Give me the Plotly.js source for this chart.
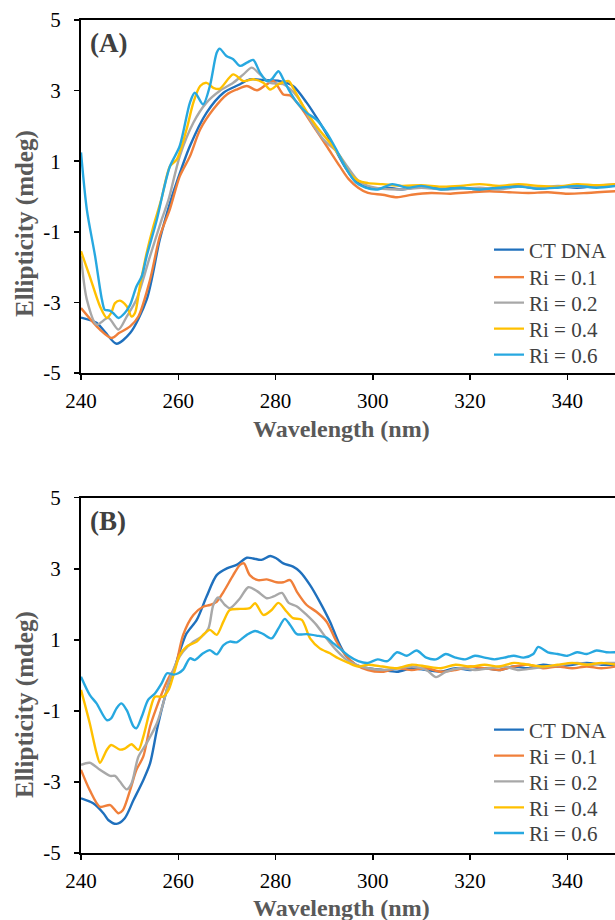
<!DOCTYPE html>
<html>
<head>
<meta charset="utf-8">
<script src="https://cdn.plot.ly/plotly-3.0.1.min.js"></script>
<style>html,body{margin:0;padding:0;background:#fff;}#chart{width:615px;height:920px;}</style>
</head>
<body>
<div id="chart"></div>
<script>
// ---------- Data ----------
const seriesNames = ["CT DNA", "Ri = 0.1", "Ri = 0.2", "Ri = 0.4", "Ri = 0.6"];
const xTickVals = [240, 260, 280, 300, 320, 340];
const yTickVals = [-5, -3, -1, 1, 3, 5];
const yTickText = ["-5", "-3", "-1", "1", "3", "5"];

// Panel (A)
const A_ctdna_x = [240,243.2,245,247.3,250.1,253.5,256.2,258.3,259.3,262.4,265.8,269.3,272.7,274.7,277.5,280.9,283.6,286.4,289.1,291.9,294,296,298,300,303,306,310,314,318,322,326,330,334,338,342,346,350];
const A_ctdna_y = [-3.43,-3.58,-3.85,-4.17,-3.87,-2.92,-1.22,-0.18,0.25,1.43,2.37,2.94,3.18,3.32,3.3,3.27,3.13,2.66,2.09,1.43,0.9,0.5,0.3,0.22,0.25,0.2,0.28,0.22,0.25,0.2,0.25,0.3,0.22,0.28,0.25,0.3,0.3];

const A_ri01_x = [240,243.9,246.3,247.8,250.1,251.8,254.2,256.2,258.3,260.3,262.4,264.5,267.2,270,272,274.1,276.2,278.2,279.6,281.6,283,285,287.8,290.5,293.2,295,297,299,302,305,308,312,316,320,324,328,332,336,340,344,350];
const A_ri01_y = [-3.16,-3.77,-4.01,-3.87,-3.68,-3.4,-2.36,-1.13,-0.35,0.57,1.14,1.9,2.47,2.89,3.03,3.13,3.01,3.18,3.27,2.89,2.86,2.56,1.99,1.43,0.86,0.5,0.25,0.1,0.05,-0.02,0.05,0.1,0.08,0.12,0.15,0.12,0.1,0.12,0.08,0.1,0.15];

const A_ri02_x = [240,241.2,243.2,245.6,247.7,249.4,251.4,254.2,256.6,258,260.3,263.1,265.8,268.5,271.3,273.4,275.1,276.8,278.9,281.6,284.4,287.1,289.8,292.5,295,297,299,302,306,310,314,318,322,326,330,334,338,342,346,350];
const A_ri02_y = [-1.69,-2.92,-3.63,-3.44,-3.77,-3.4,-2.92,-1.69,-0.65,-0.09,1.14,2.09,2.66,2.99,3.22,3.46,3.65,3.46,3.22,3.18,2.84,2.18,1.62,1.28,0.8,0.45,0.3,0.22,0.2,0.25,0.2,0.22,0.25,0.2,0.28,0.25,0.3,0.28,0.3,0.35];

const A_ri04_x = [240,241.8,243.9,245.3,246.2,247,248,249.4,250.4,251.1,252.1,253.5,254.9,256.5,258.3,259.7,261.7,263.1,264.5,265.8,267.2,268.5,271.3,273.4,275.5,277.5,278.9,280.6,282.7,283.6,285.7,288.4,291.2,293.2,295,297,299,302,306,310,314,318,322,326,330,334,338,342,346,350];
const A_ri04_y = [-1.55,-2.26,-3.11,-3.44,-3.3,-3.02,-2.95,-3.11,-3.4,-3.3,-2.55,-1.6,-0.84,-0.09,0.86,1.05,1.9,2.66,3.13,3.22,3.08,3.05,3.46,3.27,3.32,3.22,3.03,3.18,3.27,3.08,2.56,1.99,1.52,1.14,0.7,0.45,0.38,0.35,0.3,0.32,0.28,0.3,0.35,0.3,0.35,0.3,0.28,0.35,0.32,0.35];

const A_ri06_x = [240,241.2,242.9,244.3,244.9,245.9,246.6,247.7,249,250.1,251.4,252.5,253.5,255.6,257,258.3,260.3,262.4,263.4,265.1,266.5,267.9,268.5,269.9,271.3,272.7,274.1,275.4,276.8,278.2,279.2,280.6,281.6,282.7,284.4,286.4,288.4,290.5,292.5,294.5,296.5,298.5,301,304,307,310,314,318,322,326,330,334,338,342,346,350];
const A_ri06_y = [1.25,-0.37,-1.69,-2.92,-3.21,-3.23,-3.3,-3.44,-3.3,-3.07,-2.55,-2.26,-1.69,-0.65,0.2,0.86,1.43,2.66,2.94,2.61,3.13,4.07,4.19,3.98,3.89,3.7,3.79,3.87,3.51,3.27,3.32,3.55,3.32,3.03,2.66,2.37,2.18,1.81,1.33,0.8,0.4,0.25,0.2,0.35,0.25,0.3,0.2,0.25,0.2,0.25,0.28,0.22,0.25,0.3,0.25,0.3];

// Panel (B)
const B_ctdna_x = [240,242.5,244.6,245.6,247.3,249,250.8,252.8,254.2,255.6,256.9,258.3,259,260.3,261.7,263.8,265.8,267.9,270,272,274.1,275.4,277.1,278.9,280.2,281.6,283.6,285,287.1,289.1,291.2,292.9,294.5,296.5,299,302,305,308,311,314,317,320,323,326,329,332,335,338,341,344,347,350];
const B_ctdna_y = [-3.46,-3.6,-3.88,-4.07,-4.18,-4.02,-3.51,-2.95,-2.48,-1.54,-0.79,-0.13,0.1,0.67,1.18,1.56,2.21,2.82,3.01,3.11,3.31,3.29,3.25,3.36,3.29,3.15,3.06,2.92,2.54,2.07,1.51,0.95,0.55,0.3,0.2,0.15,0.1,0.2,0.15,0.1,0.2,0.15,0.2,0.15,0.25,0.2,0.3,0.25,0.3,0.35,0.3,0.3];

const B_ri01_x = [240,241.8,243.9,246,247.7,248.6,250.1,251.4,252.8,254.2,255.6,256.9,258.3,259.3,261,263.1,265.1,266.5,267.9,269.3,271.3,272.7,273.5,274.7,276.4,278.2,280.2,281.6,283,284.4,286.4,288.4,290.5,292.5,294.5,296.5,299,302,305,308,311,314,317,320,323,326,329,332,335,338,341,344,347,350];
const B_ri01_y = [-2.66,-3.23,-3.7,-3.65,-3.88,-3.8,-3.23,-2.66,-2.29,-1.44,-0.88,-0.41,0.0,0.2,1.14,1.7,1.93,1.98,2.07,2.35,2.82,3.11,3.15,2.82,2.68,2.7,2.62,2.62,2.68,2.35,1.98,1.79,1.51,0.96,0.55,0.3,0.15,0.1,0.2,0.15,0.2,0.1,0.15,0.25,0.2,0.15,0.25,0.3,0.2,0.25,0.2,0.25,0.2,0.25];

const B_ri02_x = [240,241.8,243.9,246,247,248,249.4,250.4,251.8,253.5,255.6,256.9,258,259.7,261,263.1,264.8,266.2,267.2,268.2,269.6,270.6,272.7,274.4,276.2,278.2,279.6,281.3,282.7,284.4,286.4,288.4,290.5,292.5,294.5,296.5,299,302,305,308,311,313,315,318,321,324,327,330,333,336,339,342,345,348,350];
const B_ri02_y = [-2.52,-2.46,-2.66,-2.83,-2.83,-2.99,-3.21,-3.04,-2.29,-1.91,-1.35,-0.79,-0.22,0.38,0.67,0.95,1.09,1.32,1.98,2.19,1.98,1.89,2.17,2.48,2.37,2.17,2.22,2.32,2.04,1.94,1.7,1.42,1.04,0.71,0.45,0.3,0.2,0.15,0.2,0.25,0.15,-0.05,0.1,0.2,0.15,0.2,0.25,0.15,0.2,0.25,0.3,0.35,0.3,0.35,0.35];

const B_ri04_x = [240,241.8,243.2,243.9,245.3,246.2,248,249,250.4,251.8,252.8,254.2,255.2,256.9,258,259,260.3,261.7,263.8,265.1,266.5,267.9,269.3,270.6,272.7,274.7,275.8,277.5,279.2,280.6,282.3,283.6,285.4,287.1,289.1,291.2,292.9,295,297,299,302,305,308,311,314,317,320,323,326,329,332,335,338,341,344,347,350];
const B_ri04_y = [-0.41,-1.35,-2.19,-2.46,-2.1,-1.96,-2.09,-2.06,-1.94,-2.1,-1.73,-0.98,-0.6,-0.6,-0.41,0.0,0.57,0.81,0.95,1.14,1.28,1.14,1.52,1.84,1.87,1.89,2.03,1.7,1.84,2.04,1.79,1.61,1.56,1.04,0.76,0.62,0.48,0.35,0.25,0.3,0.25,0.2,0.3,0.25,0.2,0.3,0.25,0.3,0.25,0.35,0.3,0.25,0.3,0.35,0.3,0.35,0.3];

const B_ri06_x = [240,241.8,243.2,245.3,246.2,247.3,248.3,249.4,250.8,251.4,252.5,253.8,255.2,256.6,257.7,259,260,261,262.4,263.4,265.1,266.5,267.9,269.3,270.6,272,274.1,275.8,277.5,279.2,280.6,281.9,283,284.4,286.4,288.4,290.5,291.9,293.2,295,297,299,301,303,305,307,309,311,313,315,317,319,321,323,325,327,329,331,333,334,336,338,340,342,344,346,348,350];
const B_ri06_y = [-0.04,-0.55,-0.79,-1.26,-1.21,-0.93,-0.79,-0.98,-1.44,-1.49,-1.16,-0.69,-0.51,-0.22,0.06,0.02,0.06,0.16,0.48,0.43,0.62,0.71,0.59,0.85,0.95,0.93,1.14,1.25,1.16,1.04,1.32,1.59,1.42,1.16,1.16,1.12,1.06,0.9,0.76,0.55,0.4,0.35,0.45,0.4,0.65,0.55,0.7,0.5,0.45,0.6,0.5,0.45,0.55,0.5,0.45,0.5,0.55,0.5,0.6,0.8,0.65,0.6,0.55,0.65,0.6,0.7,0.65,0.65];

// ---------- Styling ----------
const colors = ["#1F70BD", "#F07F3A", "#A8A8A8", "#FFC000", "#27A8E0"];
const FONT = "Liberation Serif";
const H = 920, MT = 20, MB = 67, ML = 81, PW = 534;
const PH = H - MT - MB;
const py = (p) => (H - MB - p) / PH;      // pixel row -> paper y
const px = (p) => (p - ML) / PW;           // pixel column -> paper x

const panelA = [[A_ctdna_x, A_ctdna_y],[A_ri01_x, A_ri01_y],[A_ri02_x, A_ri02_y],[A_ri04_x, A_ri04_y],[A_ri06_x, A_ri06_y]];
const panelB = [[B_ctdna_x, B_ctdna_y],[B_ri01_x, B_ri01_y],[B_ri02_x, B_ri02_y],[B_ri04_x, B_ri04_y],[B_ri06_x, B_ri06_y]];

const legendKey = (n) => n === 1 ? "legend" : "legend" + n;
const traces = [];
panelA.forEach((s, i) => traces.push({
  x: s[0], y: s[1], name: seriesNames[i], type: "scatter", mode: "lines",
  line: {color: colors[i], width: 2.4, shape: "spline", smoothing: 0.8},
  xaxis: "x", yaxis: "y", legend: legendKey(i + 1)
}));
panelB.forEach((s, i) => traces.push({
  x: s[0], y: s[1], name: seriesNames[i], type: "scatter", mode: "lines",
  line: {color: colors[i], width: 2.4, shape: "spline", smoothing: 0.8},
  xaxis: "x2", yaxis: "y2", legend: legendKey(i + 6)
}));

function xaxis(anchor) {
  return {
    anchor: anchor, range: [240, 349.8], tickvals: xTickVals,
    ticks: "outside", ticklen: 5, tickwidth: 1.5, tickcolor: "#000",
    showline: true, linecolor: "#000", linewidth: 2, mirror: true,
    showgrid: false, zeroline: false, ticklabelstandoff: 3,
    tickfont: {family: FONT, size: 21, color: "#000"}
  };
}
function yaxis(anchor, domain) {
  return {
    anchor: anchor, domain: domain, range: [-5, 5], tickvals: yTickVals, ticktext: yTickText,
    ticks: "outside", ticklen: 5, tickwidth: 1.5, tickcolor: "#000",
    showline: true, linecolor: "#000", linewidth: 2,
    showgrid: false, zeroline: false, ticklabelstandoff: 9,
    tickfont: {family: FONT, size: 21, color: "#000"}
  };
}

const layout = {
  width: 615, height: H,
  margin: {l: ML, r: 0, t: MT, b: MB},
  paper_bgcolor: "#fff", plot_bgcolor: "#fff",
  showlegend: true,
  xaxis: xaxis("y"),
  yaxis: yaxis("x", [py(373), 1]),
  xaxis2: xaxis("y2"),
  yaxis2: yaxis("x2", [0, py(497.7)]),
  annotations: []
};

// one legend per entry so each row sits where the reference has it
const legendRowsA = [250, 277.5, 303, 329, 355];
const legendRowsB = [730, 756, 781.7, 807.7, 833.3];
legendRowsA.concat(legendRowsB).forEach((row, k) => {
  layout[legendKey(k + 1)] = {
    x: px(489), xanchor: "left", y: py(row), yanchor: "middle",
    bgcolor: "rgba(0,0,0,0)", borderwidth: 0,
    font: {family: FONT, size: 21, color: "#404040"},
    itemwidth: 30
  };
});

const xTitleFont = {family: FONT, size: 24, color: "#595959", weight: "bold"};
const yTitleFont = {family: FONT, size: 25, color: "#595959", weight: "bold"};
const panelFont = {family: FONT, size: 27, color: "#404040", weight: "bold"};
layout.annotations.push(
  {text: "(A)", xref: "paper", yref: "paper", x: px(88), y: py(43), xanchor: "left", yanchor: "middle", showarrow: false, font: panelFont},
  {text: "(B)", xref: "paper", yref: "paper", x: px(88), y: py(521), xanchor: "left", yanchor: "middle", showarrow: false, font: panelFont},
  {text: "Wavelength (nm)", xref: "paper", yref: "paper", x: px(341), y: py(429), xanchor: "center", yanchor: "middle", showarrow: false, font: xTitleFont},
  {text: "Wavelength (nm)", xref: "paper", yref: "paper", x: px(341), y: py(908), xanchor: "center", yanchor: "middle", showarrow: false, font: xTitleFont},
  {text: "Ellipticity (mdeg)", xref: "paper", yref: "paper", x: px(25), y: py(224), xanchor: "center", yanchor: "middle", textangle: -90, showarrow: false, font: yTitleFont},
  {text: "Ellipticity (mdeg)", xref: "paper", yref: "paper", x: px(25), y: py(705), xanchor: "center", yanchor: "middle", textangle: -90, showarrow: false, font: yTitleFont}
);

Plotly.newPlot("chart", traces, layout, {staticPlot: true, displayModeBar: false});
</script>
</body>
</html>
